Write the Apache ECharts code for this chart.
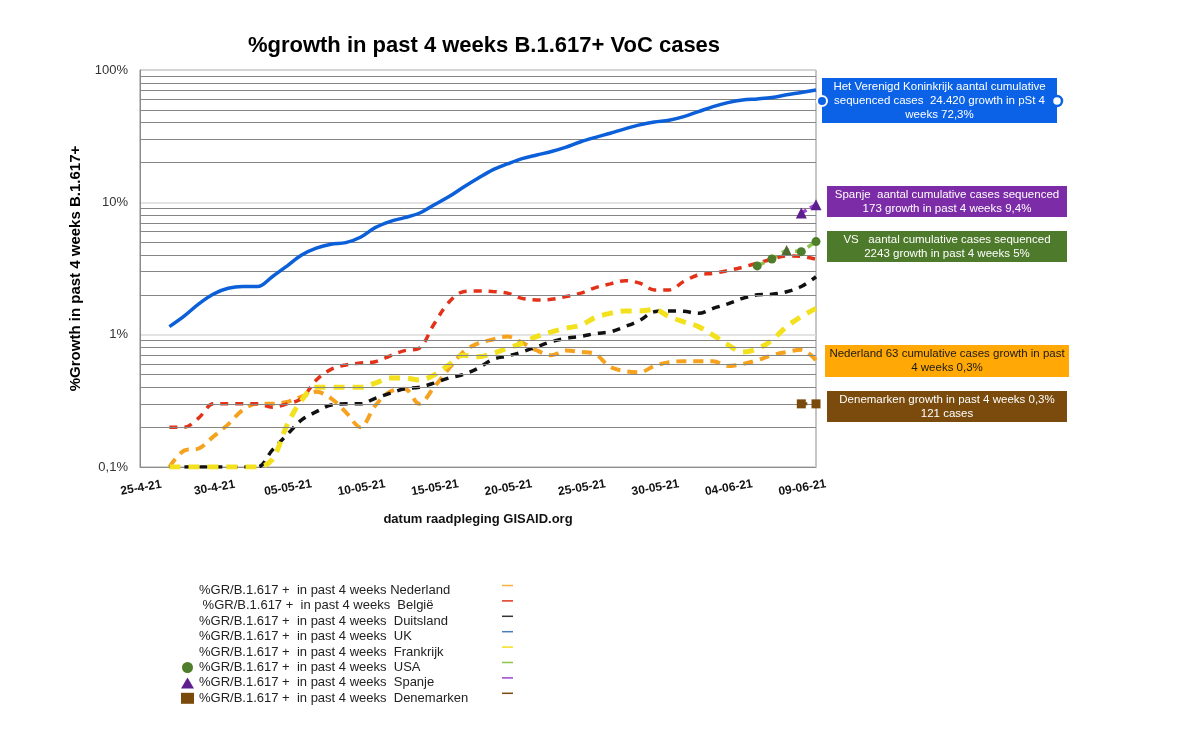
<!DOCTYPE html>
<html>
<head>
<meta charset="utf-8">
<title>%growth in past 4 weeks B.1.617+ VoC cases</title>
<script src="https://cdn.jsdelivr.net/npm/echarts@6/dist/echarts.min.js"></script>
<style>
  html, body { margin: 0; padding: 0; background: #fff; }
  #main { width: 1200px; height: 730px; }
</style>
</head>
<body>
<div id="main"></div>
<script>
// dagen (raadpleging GISAID), labels om de 5 dagen
var categories = ['25-4-21','26-4-21','27-4-21','28-4-21','29-4-21','30-4-21',
  '01-05-21','02-05-21','03-05-21','04-05-21','05-05-21','06-05-21','07-05-21','08-05-21','09-05-21',
  '10-05-21','11-05-21','12-05-21','13-05-21','14-05-21','15-05-21','16-05-21','17-05-21','18-05-21',
  '19-05-21','20-05-21','21-05-21','22-05-21','23-05-21','24-05-21','25-05-21','26-05-21','27-05-21',
  '28-05-21','29-05-21','30-05-21','31-05-21','01-06-21','02-06-21','03-06-21','04-06-21','05-06-21',
  '06-06-21','07-06-21','08-06-21','09-06-21','10-06-21'];

var yTickValues = [0.1, 1, 10, 100];
var yTickLabels = ['0,1%', '1%', '10%', '100%'];
var minorGridSteps = [2, 3, 4, 5, 6, 7, 8, 9];

// waarden in % (null = geen meting)
var nlValues = [null, null, 0.1, 0.133, 0.138, 0.17, 0.21, 0.27, 0.30, 0.30, 0.31, 0.34, 0.37, 0.33, 0.26, 0.20,
  0.29, 0.37, 0.39, 0.30, 0.40, 0.55, 0.74, 0.86, 0.92, 0.97, 0.87, 0.76, 0.70, 0.76, 0.74, 0.71, 0.57, 0.53,
  0.52, 0.58, 0.62, 0.63, 0.63, 0.63, 0.58, 0.60, 0.64, 0.70, 0.74, 0.77, 0.64];
var beValues = [null, null, 0.2, 0.2, 0.235, 0.30, 0.30, 0.30, 0.30, 0.283, 0.30, 0.33, 0.455, 0.547, 0.59, 0.61,
  0.625, 0.69, 0.757, 0.79, 1.2, 1.75, 2.11, 2.14, 2.12, 2.06, 1.88, 1.83, 1.85, 1.94, 2.06, 2.27, 2.42, 2.56,
  2.45, 2.18, 2.18, 2.52, 2.83, 2.91, 3.05, 3.23, 3.47, 3.72, 3.93, 3.9, 3.72];
var deValues = [null, null, 0.1, 0.1, 0.1, 0.1, 0.1, 0.1, 0.1, 0.134, 0.175, 0.227, 0.262, 0.294, 0.3, 0.3,
  0.33, 0.36, 0.39, 0.40, 0.43, 0.47, 0.50, 0.557, 0.65, 0.69, 0.74, 0.81, 0.885, 0.94, 0.97, 1.02, 1.05, 1.15,
  1.28, 1.49, 1.51, 1.5, 1.45, 1.58, 1.71, 1.88, 2.0, 2.02, 2.11, 2.31, 2.74];
var ukValues = [null, null, 1.15, 1.38, 1.71, 2.03, 2.24, 2.31, 2.31, 2.74, 3.3, 4.0, 4.5, 4.82, 4.96, 5.45,
  6.44, 7.15, 7.66, 8.27, 9.55, 11.0, 13.0, 15.2, 17.6, 19.5, 21.4, 22.8, 24.2, 26.1, 28.7, 31.0, 33.3, 35.9,
  38.5, 40.5, 41.7, 44.4, 48.5, 52.9, 56.7, 59.4, 60.5, 61.9, 64.9, 67.6, 70.7];
var frValues = [null, null, 0.1, 0.1, 0.1, 0.1, 0.1, 0.1, 0.1, 0.114, 0.207, 0.32, 0.40, 0.40, 0.40, 0.40,
  0.43, 0.47, 0.47, 0.455, 0.495, 0.59, 0.70, 0.68, 0.72, 0.79, 0.86, 0.97, 1.05, 1.12, 1.18, 1.35, 1.45, 1.51,
  1.51, 1.55, 1.37, 1.25, 1.15, 0.99, 0.84, 0.74, 0.78, 0.91, 1.15, 1.37, 1.58];
var usValues = [null, null, null, null, null, null, null, null, null, null, null, null, null, null, null, null,
  null, null, null, null, null, null, null, null, null, null, null, null, null, null, null, null, null, null,
  null, null, null, null, null, null, null, null, 3.31, 3.73, 4.37, 4.24, 5.05];
var esValues = [null, null, null, null, null, null, null, null, null, null, null, null, null, null, null, null,
  null, null, null, null, null, null, null, null, null, null, null, null, null, null, null, null, null, null,
  null, null, null, null, null, null, null, null, null, null, null, 8.3, 9.6];
var dkValues = [null, null, null, null, null, null, null, null, null, null, null, null, null, null, null, null,
  null, null, null, null, null, null, null, null, null, null, null, null, null, null, null, null, null, null,
  null, null, null, null, null, null, null, null, null, null, null, 0.30, 0.30];

var legendNames = [
  '%GR/B.1.617 +  in past 4 weeks Nederland',
  ' %GR/B.1.617 +  in past 4 weeks  België',
  '%GR/B.1.617 +  in past 4 weeks  Duitsland',
  '%GR/B.1.617 +  in past 4 weeks  UK',
  '%GR/B.1.617 +  in past 4 weeks  Frankrijk',
  '%GR/B.1.617 +  in past 4 weeks  USA',
  '%GR/B.1.617 +  in past 4 weeks  Spanje',
  '%GR/B.1.617 +  in past 4 weeks  Denemarken'
];

var FONT = '"Liberation Sans", Arial, Helvetica, sans-serif';
var col = {
  nl: '#f6a21e', be: '#e2331a', de: '#111111', uk: '#0b5fd8', fr: '#f2e11c',
  usLine: '#8cc44e', usDot: '#4e7d2b', esLine: '#9b45cf', esDot: '#5d1f8e', dk: '#7a4a0c'
};
var legendLineColors = ['#f6b03a', '#e2331a', '#333333', '#4a7ebb', '#f2e11c', '#8cc44e', '#9b45cf', '#7a4a0c'];

var minorGrid = [];
[0.1, 1, 10].forEach(function(dec) {
  minorGridSteps.forEach(function(s) { minorGrid.push({ yAxis: +(s * dec).toFixed(3) }); });
});

function dashed(name, data, color, width, dash, z) {
  return {
    name: name, type: 'line', data: data, smooth: 0.35, showSymbol: false, z: z || 3,
    itemStyle: { color: color },
    lineStyle: { color: color, width: width, type: dash, cap: 'butt' }
  };
}

var chart = echarts.init(document.getElementById('main'));

// het derde punt van de VS staat als driehoekje in de bron
var usData = usValues.map(function(v, i) {
  return i === 44 ? { value: v, symbol: 'triangle', symbolSize: 10, itemStyle: { color: '#4f6a35' } } : v;
});

var option = {
  animation: false,
  textStyle: { fontFamily: FONT },
  title: {
    text: '%growth in past 4 weeks B.1.617+ VoC cases',
    left: 479, top: 30, textAlign: 'center',
    textStyle: { fontSize: 22, fontWeight: 'bold', color: '#000', fontFamily: FONT }
  },
  grid: { left: 140, right: 384, top: 70, bottom: 263, show: true, borderColor: '#8c8c8c', borderWidth: 1 },
  xAxis: {
    type: 'category', data: categories, boundaryGap: false,
    axisLine: { lineStyle: { color: '#8c8c8c', width: 1 } },
    axisTick: { show: false },
    axisLabel: {
      interval: 4, rotate: 10, align: 'center', verticalAlign: 'top', margin: 15,
      fontSize: 12, fontWeight: 'bold', color: '#111', fontFamily: FONT
    },
    splitLine: { show: false },
    name: 'datum raadpleging GISAID.org', nameLocation: 'middle', nameGap: 46,
    nameTextStyle: { fontSize: 13, fontWeight: 'bold', color: '#111', fontFamily: FONT }
  },
  yAxis: {
    type: 'log', logBase: 10, min: 0.1, max: 100,
    axisLine: { show: true, lineStyle: { color: '#8c8c8c' } },
    axisTick: { show: false },
    axisLabel: {
      fontSize: 13, color: '#333', margin: 12, fontFamily: FONT,
      formatter: function(v) {
        for (var i = 0; i < yTickValues.length; i++) {
          if (Math.abs(Math.log10(v) - Math.log10(yTickValues[i])) < 1e-6) return yTickLabels[i];
        }
        return '';
      }
    },
    splitLine: { lineStyle: { color: '#dadada', width: 1.5 } },
    name: '%Growth in past 4 weeks B.1.617+', nameLocation: 'middle', nameGap: 52,
    nameTextStyle: { fontSize: 15, fontWeight: 'bold', color: '#000', fontFamily: FONT }
  },
  legend: {
    orient: 'vertical', left: 176, top: 578,
    itemWidth: 13, itemHeight: 11, itemGap: 0.4,
    textStyle: { fontSize: 13, color: '#222', lineHeight: 15, fontFamily: FONT },
    data: legendNames.map(function(n, i) {
      if (i === 5) return { name: n, icon: 'circle', itemStyle: { color: col.usDot } };
      if (i === 6) return { name: n, icon: 'triangle', itemStyle: { color: col.esDot } };
      if (i === 7) return { name: n, icon: 'rect', itemStyle: { color: col.dk } };
      return { name: n, icon: 'rect', itemStyle: { color: 'rgba(0,0,0,0)', opacity: 0 } };
    })
  },
  series: [
    {
      name: 'grid', type: 'line', data: [], silent: true, z: 1,
      markLine: {
        silent: true, symbol: ['none', 'none'], label: { show: false },
        lineStyle: { color: '#858585', width: 1.2, type: 'solid' },
        data: minorGrid
      }
    },
    dashed(legendNames[0], nlValues, col.nl, 4, [10, 7], 3),
    dashed(legendNames[1], beValues, col.be, 3.5, [8, 7], 3),
    dashed(legendNames[2], deValues, col.de, 3.5, [8, 7], 4),
    {
      name: legendNames[3], type: 'line', data: ukValues, smooth: 0.35, showSymbol: false, z: 5,
      itemStyle: { color: col.uk }, lineStyle: { color: col.uk, width: 3.5 }
    },
    dashed(legendNames[4], frValues, col.fr, 5, [11, 8], 4),
    {
      name: legendNames[5], type: 'line', data: usData, showSymbol: true, showAllSymbol: true, clip: false,
      symbol: 'circle', symbolSize: 9, z: 6,
      itemStyle: { color: col.usDot }, lineStyle: { color: col.usLine, width: 3.5, type: [8, 6] }
    },
    {
      name: legendNames[6], type: 'line', data: esValues, showSymbol: true, showAllSymbol: true, clip: false,
      symbol: 'triangle', symbolSize: 11, z: 6,
      itemStyle: { color: col.esDot }, lineStyle: { color: col.esLine, width: 3.5, type: [6, 4] }
    },
    {
      name: legendNames[7], type: 'line', data: dkValues, showSymbol: true, showAllSymbol: true, clip: false,
      symbol: 'rect', symbolSize: 9, z: 6,
      itemStyle: { color: col.dk }, lineStyle: { color: col.dk, width: 3, type: [6, 5] }
    }
  ],
  graphic: []
};

// korte lijntjes rechts in de legenda
legendLineColors.forEach(function(c, i) {
  var y = 585.5 + i * 15.4;
  option.graphic.push({
    type: 'line', silent: true,
    shape: { x1: 502, y1: y, x2: 513, y2: y },
    style: { stroke: c, lineWidth: 1.5 }
  });
});

// tekstvakken rechts
function box(x, y, w, h, fill, lines, textColor) {
  option.graphic.push({
    type: 'group', silent: true,
    children: [
      { type: 'rect', shape: { x: x, y: y, width: w, height: h }, style: { fill: fill } },
      {
        type: 'text',
        style: {
          text: lines.join('\n'), x: x + w / 2, y: y + h / 2,
          align: 'center', verticalAlign: 'middle', lineHeight: 14,
          fill: textColor || '#fff', font: '11.5px ' + FONT
        }
      }
    ]
  });
}

box(822, 78, 235, 45, '#0b62e6',
  ['Het Verenigd Koninkrijk aantal cumulative', 'sequenced cases  24.420 growth in pSt 4', 'weeks 72,3%']);
box(827, 186, 240, 31, '#7b2ca6',
  ['Spanje  aantal cumulative cases sequenced', '173 growth in past 4 weeks 9,4%']);
box(827, 231, 240, 31, '#4e7a2b',
  ['VS   aantal cumulative cases sequenced', '2243 growth in past 4 weeks 5%']);
box(825, 345, 244, 32, '#ffa806',
  ['Nederland 63 cumulative cases growth in past', '4 weeks 0,3%'], '#1a1a1a');
box(827, 391, 240, 31, '#7a4b0c',
  ['Denemarken growth in past 4 weeks 0,3%', '121 cases']);

option.graphic.push(
  { type: 'circle', silent: true, shape: { cx: 822, cy: 101, r: 5 }, style: { fill: '#0b62e6', stroke: '#fff', lineWidth: 2 } },
  { type: 'circle', silent: true, shape: { cx: 1057, cy: 101, r: 5 }, style: { fill: '#fff', stroke: '#0b62e6', lineWidth: 2.5 } }
);

chart.setOption(option);
window.onresize = chart.resize;
</script>
</body>
</html>
